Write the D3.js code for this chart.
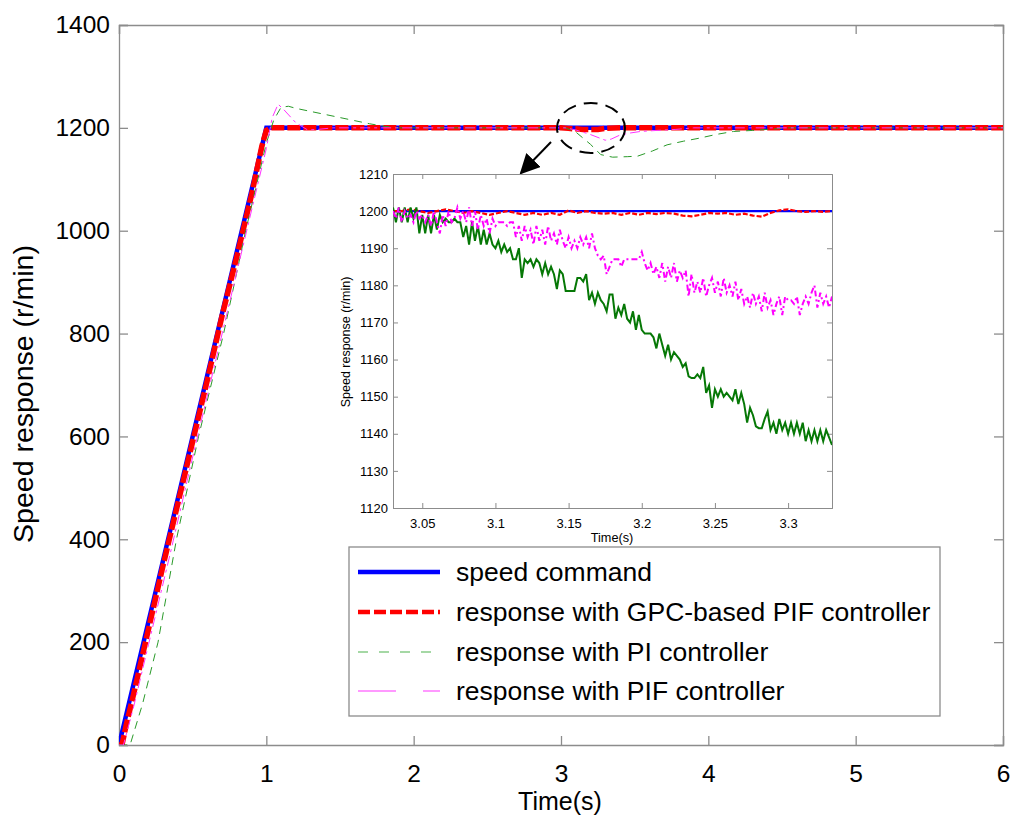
<!DOCTYPE html>
<html><head><meta charset="utf-8">
<script src="https://cdn.jsdelivr.net/npm/d3@7"></script>
<style>body{margin:0;background:#fff}svg{display:block}text{font-family:"Liberation Sans",Arial,sans-serif}</style>
</head><body><svg id="c" width="1024" height="831"></svg>
<script>
// ---------- data ----------
const xTicksMain = [0,1,2,3,4,5,6];
const yTicksMain = [0,200,400,600,800,1000,1200,1400];
const xTicksInset = [3.05,3.1,3.15,3.2,3.25,3.3];
const yTicksInset = [1120,1130,1140,1150,1160,1170,1180,1190,1200,1210];

const legendLabels = ["speed command","response with GPC-based PIF controller","response with PI controller","response with PIF controller"];

// main plot series (time s, speed r/min)
const cmdT = [0,1,6];
const cmdV = [0,1200,1200];
const gpcT = [0,0.02,0.05,0.1,0.2,0.3,0.4,0.5,0.6,0.7,0.8,0.9,0.97,1.0,1.03,3.0,3.05,3.15,3.25,3.3,3.4,6];
const gpcV = [0,0,40,100,225,350,470,590,710,835,950,1070,1165,1195,1200,1200,1199,1197,1197,1199,1200,1200];
const piT = [0,0.075,0.16,0.265,0.39,0.54,0.71,0.86,1.0,1.05,1.1,1.15,1.2,1.3,1.4,1.5,1.6,1.7,1.8,1.9,3.03,3.1,3.2,3.27,3.35,3.45,3.52,3.62,3.72,3.83,3.94,4.05,4.17,4.3,4.4,4.55,6];
const piV = [0,0,80,200,400,600,800,1000,1170,1215,1240,1242,1238,1232,1226,1220,1214,1208,1203,1200,1200,1192,1168,1148,1143,1144,1145,1155,1167,1174,1180,1187,1193,1195,1197,1200,1200];
const pifT = [0,0.03,0.1,0.2,0.35,0.5,0.65,0.8,0.95,1.0,1.04,1.08,1.12,1.2,1.28,1.35,1.45,3.03,3.1,3.2,3.3,3.34,3.4,3.47,3.54,3.65,3.78,3.9,6];
const pifV = [0,0,75,195,375,560,740,920,1100,1160,1220,1246,1235,1210,1196,1197,1200,1200,1196,1187,1176,1178,1186,1190,1193,1195,1197,1200,1200];

// inset series: sampled from t = 3.03 with step 0.002 (green, magenta), 0.006 (red)
const insetStart = 3.03, insetStep = 0.002, insetStepRed = 0.006;
const insetPI = [1201,1197,1201,1197,1201,1197,1201,1198,1201,
 1194,1199,1194,1199,1194,1199,1195,1199,
 1197,1198,1197,1197,1198,1197,1197,
 1193,1196,1191,1197,1192,1196,1191,1195,1191,1194,1191,
 1190,1192,1189,1191,1189,1190,
 1187,1187,1190,1182,
 1187,1186,1187,1185,1187,1186,
 1183,1186,1183,1185,1183,1179,1184,1183,
 1178.5,1178.5,1178.5,1178.5,
 1182,1182,1181,1183,
 1176,1178,1175,1178,1176,1175,1173,1177.5,1177.5,1171,
 1174,1172,1175,1171,
 1170,1173,1168,1172,1168,
 1167,1167,1167,1166,
 1163,1167,1164,1161,1164,1160,1162,1161,1160,1158,1159,
 1155.5,1155,1155,1156,1155,1158,1151,1153,1147,1152,
 1150,1152,1150,1151,1150,1149,1152,1148,1151,1148,
 1143,1147,1145,1142,1141.5,1141.5,1144,1146,
 1141,1143,1140,1144,1141,1143,1140,1143,1140,1143,1140,1143,
 1138,1141,1138,1141,1138,1141,1138,1141,1139,1137];
const insetPIF = [1200,1198,1201,1197,1200,1198,1199,1197,1200,1198,1199,1197,1199,
 1196,1200,1197,1194,1199,1196,1200,1197,1198,
 1201,1198,1200,1197,1201,
 1196,1200,1195,1199,1196,1198,1194,1198,1196,
 1197,1197,1197,1196,1197,1197,
 1193,1196,1192,1196,1193,1195,
 1191,1196,1192,1195,1191,1196,1192,1194,1191,1195,
 1192,1190,1193,1190,1192,1190,1193,1191,
 1193,1190,1194,1190,
 1188,1187,1188,1183,1185,
 1187,1187,1187,1185,1187,1187,1187,1187,1187,1187,1189,
 1186,1184,1186,1183,1185,1182,1186,
 1181,1185,1182,1186,1181,1184,1182,
 1184,1177,1183,1178,
 1181,1178,1182,1177,1180,1182,1178,1181,1177,1182,1178,1180,1177,
 1181,1176,1179,1175,
 1177,1174,1178,1175,1177,1173,1178,1174,1176,
 1172,1175,1177,1172,1177,1176,1176,1175,1177,1172,1175,
 1177,1175,1178,1180,1174,1178,1175,1177,1174,1177];
const insetGPC = [1200,1200,1200.5,1200,1199.5,1200,1200.5,1200,1199.5,
 1200,1199.5,1199,1199.5,1200,1199.5,1199,1199.5,1199,
 1199.5,1199,1200.2,1199.5,1200,1199.5,1199.3,
 1199.5,1199,1199.5,1199,1199.5,1199.2,1199.5,1199.3,
 1198.8,1198.6,1199,1199.5,1199.3,
 1199.5,1199,1199.3,1198.8,1198.5,
 1199.5,1200.2,1200.5,1200,1199.8,1200,1199.8,1200];
const insetCmdT = [3.03,3.33];
const insetCmdV = [1200,1200];

// ---------- drawing ----------
const svg = d3.select("#c");
const M = {l:119, r:1003, t:25, b:745};
const x = d3.scaleLinear().domain([0,6]).range([M.l,M.r]);
const y = d3.scaleLinear().domain([0,1400]).range([M.b,M.t]);
const axisCol = "#8c8c8c";
const defs = svg.append("defs");

defs.append("clipPath").attr("id","mclip").append("rect")
  .attr("x",M.l).attr("y",M.t).attr("width",M.r-M.l).attr("height",M.b-M.t);

function zip(T,V){return T.map((t,i)=>[t,V[i]]);}

// axes main
const gx = svg.append("g").attr("transform",`translate(0,${M.b})`)
  .call(d3.axisBottom(x).tickValues(xTicksMain).tickSize(-9).tickPadding(14).tickFormat(d3.format("d")));
const gy = svg.append("g").attr("transform",`translate(${M.l},0)`)
  .call(d3.axisLeft(y).tickValues(yTicksMain).tickSize(-9).tickPadding(9).tickFormat(d3.format("d")));
const gx2 = svg.append("g").attr("transform",`translate(0,${M.t})`)
  .call(d3.axisTop(x).tickValues(xTicksMain).tickSize(-9).tickFormat(""));
const gy2 = svg.append("g").attr("transform",`translate(${M.r},0)`)
  .call(d3.axisRight(y).tickValues(yTicksMain).tickSize(-9).tickFormat(""));
[gx,gy,gx2,gy2].forEach(g=>{
  g.selectAll("path,line").attr("stroke",axisCol).attr("stroke-width",1.3);
  g.selectAll("text").attr("font-size",24.5).attr("fill","#000").style("font-family","'Liberation Sans',Arial,sans-serif");
});
gx.selectAll("text").attr("dy","0.95em");

svg.append("text").attr("x",560).attr("y",810).attr("text-anchor","middle").attr("font-size",25).text("Time(s)");
svg.append("text").attr("transform","translate(33,394) rotate(-90)").attr("text-anchor","middle").attr("font-size",28.5).text("Speed response (r/min)");

// main lines
const line = d3.line().x(d=>x(d[0])).y(d=>y(d[1]));
const mg = svg.append("g").attr("clip-path","url(#mclip)");
mg.append("path").datum(zip(cmdT,cmdV)).attr("d",line).attr("fill","none").attr("stroke","#0000ff").attr("stroke-width",4.5);
mg.append("path").datum(zip(gpcT,gpcV)).attr("d",line).attr("fill","none").attr("stroke","#ff0000").attr("stroke-width",5.5).attr("stroke-dasharray","13,3");
mg.append("path").datum(zip(piT,piV)).attr("d",line).attr("fill","none").attr("stroke","#2a9a2a").attr("stroke-width",1).attr("stroke-dasharray","8,6");
mg.append("path").datum(zip(pifT,pifV)).attr("d",line).attr("fill","none").attr("stroke","#ff33ff").attr("stroke-width",1).attr("stroke-dasharray","10,4,3,4");

// ellipse + arrow
svg.append("ellipse").attr("cx",591).attr("cy",128).attr("rx",34).attr("ry",25)
  .attr("fill","none").attr("stroke","#000").attr("stroke-width",2).attr("stroke-dasharray","14,8");
defs.append("marker").attr("id","ah").attr("viewBox","0 0 10 10").attr("refX",9).attr("refY",5)
  .attr("markerWidth",20).attr("markerHeight",20).attr("markerUnits","userSpaceOnUse").attr("orient","auto")
  .append("path").attr("d","M0,0 L10,5 L0,10 z").attr("fill","#000");
svg.append("line").attr("x1",551).attr("y1",142).attr("x2",521).attr("y2",173)
  .attr("stroke","#000").attr("stroke-width",2).attr("marker-end","url(#ah)");

// ---------- inset ----------
const I = {l:393, r:832, t:174, b:508};
const xi = d3.scaleLinear().domain([3.03,3.33]).range([I.l,I.r]);
const yi = d3.scaleLinear().domain([1120,1210]).range([I.b,I.t]);
svg.append("rect").attr("x",I.l).attr("y",I.t).attr("width",I.r-I.l).attr("height",I.b-I.t).attr("fill","#fff");
defs.append("clipPath").attr("id","iclip").append("rect")
  .attr("x",I.l).attr("y",I.t-2).attr("width",I.r-I.l).attr("height",I.b-I.t+2);

const ix = svg.append("g").attr("transform",`translate(0,${I.b})`)
  .call(d3.axisBottom(xi).tickValues(xTicksInset).tickSize(-5).tickPadding(8).tickFormat(d=>String(+d.toFixed(2))));
const iy = svg.append("g").attr("transform",`translate(${I.l},0)`)
  .call(d3.axisLeft(yi).tickValues(yTicksInset).tickSize(-5).tickPadding(5).tickFormat(d3.format("d")));
const ix2 = svg.append("g").attr("transform",`translate(0,${I.t})`)
  .call(d3.axisTop(xi).tickValues(xTicksInset).tickSize(-5).tickFormat(""));
const iy2 = svg.append("g").attr("transform",`translate(${I.r},0)`)
  .call(d3.axisRight(yi).tickValues(yTicksInset).tickSize(-5).tickFormat(""));
[ix,iy,ix2,iy2].forEach(g=>{
  g.selectAll("path,line").attr("stroke",axisCol).attr("stroke-width",1);
  g.selectAll("text").attr("font-size",13).attr("fill","#000").style("font-family","'Liberation Sans',Arial,sans-serif");
});
ix.selectAll("text").attr("dy","0.9em");
svg.append("text").attr("x",612).attr("y",542).attr("text-anchor","middle").attr("font-size",12.7).text("Time(s)");
svg.append("text").attr("transform","translate(350,342) rotate(-90)").attr("text-anchor","middle").attr("font-size",12.5).text("Speed response (r/min)");

const li = d3.line().x(d=>xi(d[0])).y(d=>yi(d[1]));
const ig = svg.append("g").attr("clip-path","url(#iclip)");
const tGrid = insetPI.map((v,i)=>insetStart+i*insetStep);
const tRed = insetGPC.map((v,i)=>insetStart+i*insetStepRed);
ig.append("path").datum(zip(insetCmdT,insetCmdV)).attr("d",li).attr("fill","none").attr("stroke","#0000ff").attr("stroke-width",2.2);
ig.append("path").datum(zip(tRed,insetGPC)).attr("d",li).attr("fill","none").attr("stroke","#ff0000").attr("stroke-width",2.2).attr("stroke-dasharray","5,2");
ig.append("path").datum(zip(tGrid,insetPI)).attr("d",li).attr("fill","none").attr("stroke","#067806").attr("stroke-width",2);
ig.append("path").datum(zip(tGrid,insetPIF)).attr("d",li).attr("fill","none").attr("stroke","#ff00ff").attr("stroke-width",2).attr("stroke-dasharray","6,3,2,3");

// ---------- legend ----------
const L = {x:349, y:547, w:591, h:169};
svg.append("rect").attr("x",L.x).attr("y",L.y).attr("width",L.w).attr("height",L.h).attr("fill","#fff").attr("stroke",axisCol).attr("stroke-width",1.3);
const legStyles = [
  {c:"#0000ff",w:4.5,d:null},
  {c:"#ff0000",w:4.5,d:"12,4"},
  {c:"#88cc88",w:1.3,d:"10,11"},
  {c:"#ff99ff",w:2,d:"38,27"}
];
const rowY = [572,612,652,691];
legendLabels.forEach((lab,i)=>{
  const s = legStyles[i];
  svg.append("line").attr("x1",358).attr("x2",440).attr("y1",rowY[i]).attr("y2",rowY[i])
    .attr("stroke",s.c).attr("stroke-width",s.w).attr("stroke-dasharray",s.d);
  svg.append("text").attr("x",456).attr("y",rowY[i]).attr("dy","0.35em").attr("font-size",26.5).text(lab);
});
</script></body></html>
